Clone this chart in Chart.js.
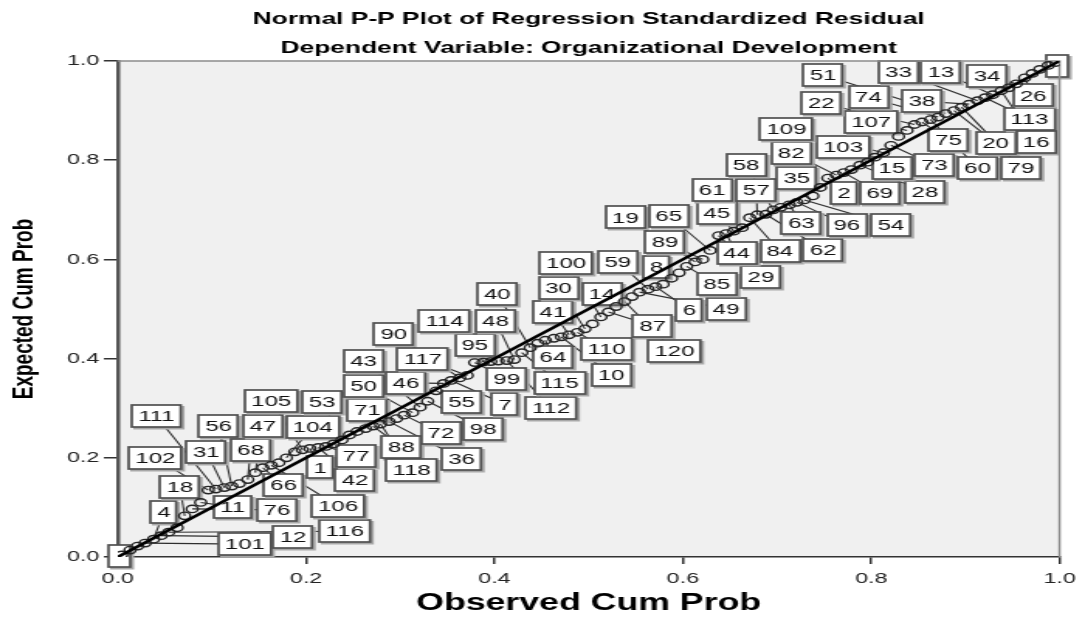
<!DOCTYPE html>
<html>
<head>
<meta charset="utf-8">
<script src="https://cdn.jsdelivr.net/npm/chart.js@4.4.1/dist/chart.umd.min.js"></script>
<style>
html, body { margin: 0; padding: 0; background: #fff; overflow: hidden; }
/* the source picture is stretched sideways, so the canvas is too */
#wrap { width: 700px; height: 617px; transform: scaleX(1.55); transform-origin: 0 0; }
</style>
</head>
<body>
<div id="wrap"><canvas id="pp" width="700" height="617"></canvas></div>
<script>
var titleLines = ["Normal P-P Plot of Regression Standardized Residual",
                  "Dependent Variable: Organizational Development"];
var xTitle = "Observed Cum Prob";
var yTitle = "Expected Cum Prob";
var tickLabels = ["0.0", "0.2", "0.4", "0.6", "0.8", "1.0"];
var diagonal = [0, 1];

// sorted residuals: observed vs expected cumulative probability
var observed = [
  0.004, 0.013, 0.021, 0.029, 0.038, 0.046, 0.054, 0.063, 0.071, 0.079,
  0.088, 0.096, 0.104, 0.113, 0.121, 0.129, 0.138, 0.146, 0.154, 0.163,
  0.171, 0.179, 0.188, 0.196, 0.204, 0.213, 0.221, 0.229, 0.238, 0.246,
  0.254, 0.263, 0.271, 0.279, 0.288, 0.296, 0.304, 0.313, 0.321, 0.329,
  0.338, 0.346, 0.354, 0.363, 0.371, 0.379, 0.388, 0.396, 0.404, 0.413,
  0.421, 0.429, 0.438, 0.446, 0.454, 0.463, 0.471, 0.479, 0.488, 0.496,
  0.504, 0.513, 0.521, 0.529, 0.538, 0.546, 0.554, 0.563, 0.571, 0.579,
  0.588, 0.596, 0.604, 0.613, 0.621, 0.629, 0.638, 0.646, 0.654, 0.663,
  0.671, 0.679, 0.688, 0.696, 0.704, 0.713, 0.721, 0.729, 0.738, 0.746,
  0.754, 0.763, 0.771, 0.779, 0.788, 0.796, 0.804, 0.813, 0.821, 0.829,
  0.838, 0.846, 0.854, 0.863, 0.871, 0.879, 0.888, 0.896, 0.904, 0.913,
  0.921, 0.929, 0.938, 0.946, 0.954, 0.963, 0.971, 0.979, 0.988, 0.996
];
var expected = [
  0.004, 0.014, 0.022, 0.028, 0.036, 0.043, 0.050, 0.059, 0.083, 0.097,
  0.110, 0.135, 0.137, 0.140, 0.143, 0.148, 0.156, 0.170, 0.180, 0.185,
  0.190, 0.200, 0.212, 0.216, 0.219, 0.221, 0.223, 0.228, 0.236, 0.246,
  0.253, 0.259, 0.264, 0.268, 0.273, 0.279, 0.286, 0.291, 0.302, 0.314,
  0.335, 0.350, 0.356, 0.361, 0.366, 0.392, 0.393, 0.394, 0.395, 0.396,
  0.398, 0.412, 0.422, 0.431, 0.437, 0.441, 0.444, 0.448, 0.453, 0.460,
  0.470, 0.484, 0.494, 0.505, 0.515, 0.525, 0.534, 0.540, 0.545, 0.550,
  0.562, 0.573, 0.586, 0.595, 0.600, 0.618, 0.648, 0.652, 0.657, 0.664,
  0.684, 0.690, 0.691, 0.700, 0.705, 0.710, 0.715, 0.720, 0.728, 0.745,
  0.764, 0.770, 0.775, 0.781, 0.790, 0.796, 0.806, 0.815, 0.830, 0.848,
  0.860, 0.872, 0.877, 0.882, 0.887, 0.894, 0.900, 0.907, 0.913, 0.920,
  0.926, 0.932, 0.940, 0.946, 0.954, 0.966, 0.975, 0.983, 0.991, 0.997
];

// case labels and the rank (1-based) of the point each one marks
var labelCase = [
  "", "101", "12", "116", "4", "18", "11", "76", "102", "111",
  "31", "56", "68", "47", "66", "106", "104", "105", "1", "42",
  "77", "53", "71", "88", "118", "36", "72", "50", "43", "98",
  "55", "46", "7", "90", "117", "99", "95", "114", "112", "48",
  "115", "40", "64", "10", "41", "110", "30", "100", "87", "14",
  "120", "49", "59", "6", "8", "85", "19", "89", "65", "29",
  "44", "45", "61", "84", "57", "62", "58", "63", "96", "54",
  "35", "2", "82", "69", "28", "103", "15", "109", "73", "107",
  "22", "75", "60", "74", "51", "20", "79", "38", "33", "113",
  "13", "16", "34", "26", ""
];
var labelRank = [
  1, 4, 6, 7, 5, 9, 11, 10, 12, 13,
  14, 15, 17, 18, 19, 20, 22, 24, 25, 26,
  27, 29, 32, 33, 34, 35, 37, 38, 39, 40,
  41, 42, 43, 44, 45, 46, 47, 48, 50, 51,
  52, 53, 55, 57, 58, 59, 60, 62, 63, 64,
  65, 67, 68, 69, 71, 73, 74, 75, 76, 77,
  78, 79, 80, 81, 82, 83, 84, 86, 87, 88,
  90, 91, 92, 93, 95, 96, 97, 98, 99, 101,
  102, 103, 104, 105, 106, 107, 108, 109, 110, 111,
  112, 113, 115, 116, 120
];

// where each label box sits, in axis units (layout, not data)
var labelBoxX = [
  0.002, 0.135, 0.186, 0.241, 0.049, 0.066, 0.122, 0.169, 0.040, 0.041,
  0.094, 0.107, 0.141, 0.154, 0.176, 0.234, 0.207, 0.163, 0.215, 0.252,
  0.253, 0.217, 0.265, 0.301, 0.312, 0.365, 0.343, 0.261, 0.261, 0.388,
  0.365, 0.306, 0.411, 0.293, 0.324, 0.413, 0.379, 0.347, 0.460, 0.401,
  0.469, 0.403, 0.462, 0.524, 0.462, 0.519, 0.468, 0.476, 0.568, 0.514,
  0.591, 0.646, 0.531, 0.607, 0.572, 0.636, 0.539, 0.581, 0.585, 0.683,
  0.657, 0.636, 0.631, 0.703, 0.678, 0.749, 0.667, 0.726, 0.774, 0.821,
  0.721, 0.771, 0.715, 0.809, 0.857, 0.770, 0.822, 0.710, 0.867, 0.800,
  0.747, 0.882, 0.913, 0.797, 0.749, 0.932, 0.959, 0.854, 0.829, 0.968,
  0.874, 0.975, 0.923, 0.972, 0.997
];
var labelBoxY = [
  0.002, 0.026, 0.040, 0.052, 0.091, 0.141, 0.101, 0.095, 0.200, 0.284,
  0.212, 0.264, 0.216, 0.264, 0.145, 0.103, 0.262, 0.315, 0.181, 0.155,
  0.204, 0.313, 0.296, 0.222, 0.175, 0.198, 0.250, 0.345, 0.395, 0.258,
  0.313, 0.351, 0.308, 0.450, 0.399, 0.359, 0.427, 0.476, 0.300, 0.476,
  0.351, 0.530, 0.403, 0.367, 0.494, 0.419, 0.542, 0.593, 0.466, 0.530,
  0.415, 0.500, 0.595, 0.498, 0.585, 0.550, 0.685, 0.635, 0.688, 0.565,
  0.613, 0.694, 0.740, 0.617, 0.740, 0.619, 0.790, 0.673, 0.669, 0.669,
  0.764, 0.734, 0.815, 0.734, 0.736, 0.827, 0.784, 0.863, 0.790, 0.877,
  0.915, 0.841, 0.784, 0.927, 0.972, 0.835, 0.784, 0.919, 0.978, 0.883,
  0.978, 0.837, 0.970, 0.931, 0.990
];

var fam = '"Liberation Sans", Arial, Helvetica, sans-serif';
Chart.defaults.font.family = fam;

var points = observed.map(function(o, i){ return {x: o, y: expected[i]}; });

var frame = {
  id: 'frame',
  beforeDraw: function(chart){
    var c = chart.ctx, a = chart.chartArea;
    c.save();
    c.fillStyle = '#fff';
    c.fillRect(0, 0, chart.width, chart.height);
    c.fillStyle = '#f0f0f0';
    c.fillRect(a.left, a.top, a.right - a.left, a.bottom - a.top);
    c.restore();
  },
  beforeDatasetsDraw: function(chart){
    var c = chart.ctx, a = chart.chartArea;
    var xs = chart.scales.x, ys = chart.scales.y;
    c.save();
    c.font = '15.5px ' + fam;
    c.strokeStyle = '#2e2e2e';
    c.lineWidth = 1.1;
    // leader lines first, boxes on top of them
    for (var i = 0; i < labelCase.length; i++) {
      var k = labelRank[i] - 1;
      c.beginPath();
      c.moveTo(xs.getPixelForValue(labelBoxX[i]), ys.getPixelForValue(labelBoxY[i]));
      c.lineTo(xs.getPixelForValue(observed[k]), ys.getPixelForValue(expected[k]));
      c.stroke();
    }
    c.textAlign = 'center';
    c.textBaseline = 'middle';
    for (var j = 0; j < labelCase.length; j++) {
      var px = xs.getPixelForValue(labelBoxX[j]), py = ys.getPixelForValue(labelBoxY[j]);
      var w = labelCase[j] ? c.measureText(labelCase[j]).width + 8 : 14, h = 22;
      var bx = Math.round(px - w / 2), by = Math.round(py - h / 2);
      c.fillStyle = '#a8a8a8';
      c.fillRect(bx + 1, by + 1, w + 1.5, h + 1.5);
      c.fillStyle = '#fff';
      c.fillRect(bx, by, w, h);
      c.strokeStyle = '#505050';
      c.lineWidth = 1.7;
      c.strokeRect(bx, by, w, h);
      c.fillStyle = '#111';
      c.fillText(labelCase[j], px, py + 1);
    }
    // frame on top and right of the plot
    c.strokeStyle = '#8c8c8c';
    c.lineWidth = 1.5;
    c.beginPath();
    c.moveTo(a.left, a.top); c.lineTo(a.right, a.top); c.lineTo(a.right, a.bottom);
    c.stroke();
    c.restore();
  },
  afterDraw: function(chart){
    var c = chart.ctx, a = chart.chartArea;
    var cx = (a.left + a.right) / 2;
    c.save();
    c.fillStyle = '#000';
    c.font = 'bold 17px ' + fam;
    c.textAlign = 'center';
    c.textBaseline = 'middle';
    c.fillText(titleLines[0], cx, 19);
    c.fillText(titleLines[1], cx, 48);
    c.restore();
  }
};

var ctx = document.getElementById('pp').getContext('2d');
var ppChart = new Chart(ctx, {
  type: 'scatter',
  data: {
    datasets: [{
      data: [{x: diagonal[0], y: diagonal[0]}, {x: diagonal[1], y: diagonal[1]}],
      showLine: true,
      borderColor: '#000',
      borderWidth: 2.6,
      pointRadius: 0,
      order: 0
    }, {
      data: points,
      pointStyle: 'circle',
      pointRadius: 3.7,
      pointBorderColor: '#262626',
      pointBackgroundColor: 'rgba(0,0,0,0)',
      pointBorderWidth: 1.4,
      order: 1
    }]
  },
  options: {
    responsive: false,
    animation: false,
    events: [],
    layout: { padding: { top: 61, right: 15.5, left: 0, bottom: 0 } },
    plugins: { legend: { display: false }, tooltip: { enabled: false } },
    scales: {
      x: {
        type: 'linear', min: 0, max: 1,
        afterFit: function(s){ s.height = 60; },
        ticks: {
          stepSize: 0.2, padding: 6, color: '#222', font: { size: 15 },
          callback: function(v){ return tickLabels[Math.round(v / 0.2)]; }
        },
        grid: { drawOnChartArea: false, tickLength: 7, color: '#333', lineWidth: 1.5 },
        border: { display: true, color: '#333', width: 1.5 },
        title: { display: true, text: xTitle, color: '#000',
                 font: { size: 23, weight: 'bold' }, padding: { top: 0, bottom: 0 } }
      },
      y: {
        type: 'linear', min: 0, max: 1,
        afterFit: function(s){ s.width = 76; },
        ticks: {
          stepSize: 0.2, padding: 3, color: '#222', font: { size: 15 },
          callback: function(v){ return tickLabels[Math.round(v / 0.2)]; }
        },
        grid: { drawOnChartArea: false, tickLength: 9, color: '#333', lineWidth: 1.5 },
        border: { display: true, color: '#555', width: 2.5 },
        title: { display: true, text: yTitle, color: '#000',
                 font: { size: 19, weight: 'bold' }, padding: { top: 4, bottom: 0 } }
      }
    }
  },
  plugins: [frame]
});
</script>
</body>
</html>
